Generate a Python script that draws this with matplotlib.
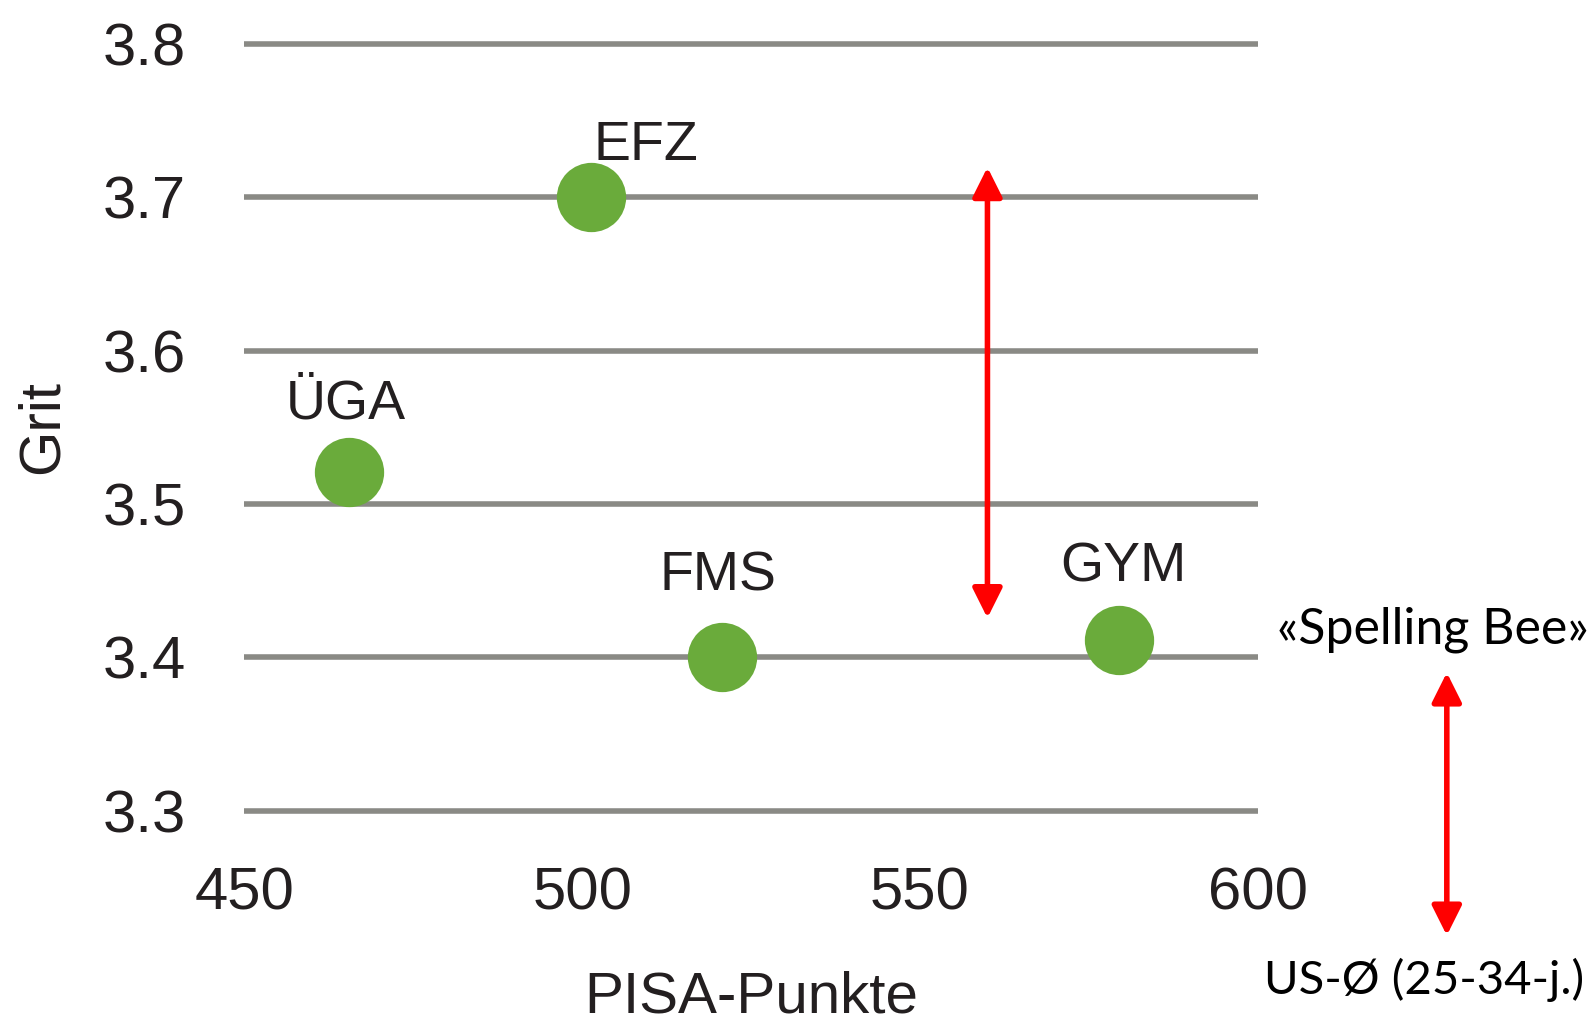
import numpy as np
import matplotlib.pyplot as plt

# Daten
schultyp = ["ÜGA", "EFZ", "FMS", "GYM"]
pisa = [465.5, 501.3, 520.7, 579.5]
grit = [3.521, 3.700, 3.400, 3.411]
# Versatz der Beschriftung relativ zum Punkt (Pixel)
label_dx = [-3, 55, -4, 4]
label_dy = [53, 37, 67, 59]

y_ticks = [3.3, 3.4, 3.5, 3.6, 3.7, 3.8]
x_ticks = [450, 500, 550, 600]

# rote Pfeile: x, y_unten, y_oben
pfeil_x = [560, 628]
pfeil_unten = [3.4256, 3.2186]
pfeil_oben = [3.7195, 3.390]

text_spelling = "«Spelling Bee»"
text_us = "US-Ø (25-34-j.)"
pos_spelling = (625.9, 3.418)
pos_us = (624.6, 3.1894)

gruen = "#6aab3b"
grau = "#8a8a85"
dunkel = "#231f20"

plt.rcParams['font.family'] = ['Liberation Sans', 'DejaVu Sans']

fig = plt.figure(figsize=(15.95, 10.23), dpi=100)
ax = fig.add_axes([0.1532, 0.2076, 0.6353, 0.7496])
ax.set_xlim(450, 600)
ax.set_ylim(3.3, 3.8)

for s in ax.spines.values():
    s.set_visible(False)

ax.hlines(y_ticks, 450, 600, color=grau, lw=4, clip_on=False, zorder=1)

ax.scatter(pisa, grit, s=2490, color=gruen, zorder=3, clip_on=False, linewidths=0)

for name, x, y, dx, dy in zip(schultyp, pisa, grit, label_dx, label_dy):
    ax.annotate(name, (x, y), xytext=(dx*0.72, dy*0.72), textcoords='offset points',
                ha='center', va='baseline', fontsize=40, color=dunkel)

ax.set_xticks(x_ticks)
ax.set_yticks(y_ticks)
ax.set_xticklabels([str(v) for v in x_ticks])
ax.set_yticklabels(["%.1f" % v for v in y_ticks])
ax.tick_params(axis='both', length=0, labelsize=43, labelcolor=dunkel)
ax.tick_params(axis='y', pad=42)
ax.tick_params(axis='x', pad=40)

ax.set_xlabel("PISA-Punkte", fontsize=42, color=dunkel)
ax.xaxis.set_label_coords(0.5, -0.208)
ax.set_ylabel("Grit", fontsize=42, color=dunkel)
ax.yaxis.set_label_coords(-0.172, 0.5)

for x, y0, y1 in zip(pfeil_x, pfeil_unten, pfeil_oben):
    ax.annotate("", xy=(x, y1), xytext=(x, y0),
                arrowprops=dict(arrowstyle='<|-|>', color='red', lw=4,
                                mutation_scale=45, shrinkA=0, shrinkB=0),
                annotation_clip=False, zorder=4)

ax.text(pos_spelling[0], pos_spelling[1], text_spelling, ha='center', va='center',
        fontsize=36, family=['Lato', 'DejaVu Sans'], color='black', clip_on=False)
ax.text(pos_us[0], pos_us[1], text_us, ha='center', va='center',
        fontsize=34, family=['Lato', 'DejaVu Sans'], color='black', clip_on=False)

fig.savefig("out.png", dpi=100)
